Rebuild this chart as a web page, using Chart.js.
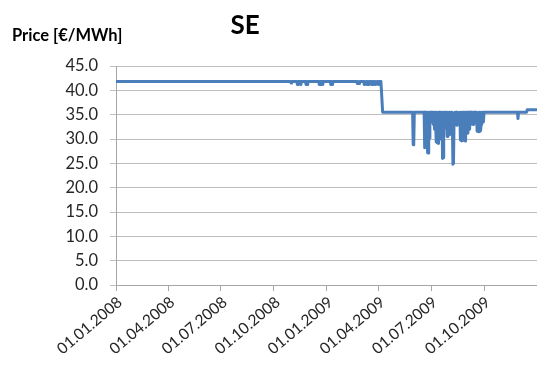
<!DOCTYPE html>
<html>
<head>
<meta charset="utf-8">
<script src="https://cdn.jsdelivr.net/npm/chart.js@4.4.1/dist/chart.umd.min.js"></script>
<style>
  html, body { margin: 0; padding: 0; background: #ffffff; }
  #c { display: block; }
</style>
</head>
<body>
<canvas id="c" width="537" height="374"></canvas>
<script>
// ---- Data ----
const chartTitle = "SE";
const yAxisTitle = "Price [€/MWh]";

// Sparse change points (daily series; flat stretches need only their ends)
const dates = [
  "2008-01-01",
  "2008-10-30", "2008-10-31", "2008-11-01",
  "2008-11-10", "2008-11-11", "2008-11-12", "2008-11-13", "2008-11-14", "2008-11-15", "2008-11-16", "2008-11-17", "2008-11-18",
  "2008-11-25", "2008-11-26", "2008-11-27", "2008-11-28", "2008-11-29",
  "2008-12-18", "2008-12-19", "2008-12-20", "2008-12-21", "2008-12-22", "2008-12-23", "2008-12-24", "2008-12-25", "2008-12-26",
  "2009-01-07", "2009-01-08", "2009-01-09", "2009-01-11", "2009-01-12",
  "2009-02-22", "2009-02-23", "2009-02-24", "2009-02-26", "2009-02-27",
  "2009-03-06", "2009-03-07", "2009-03-08", "2009-03-10", "2009-03-11", "2009-03-12", "2009-03-13", "2009-03-15", "2009-03-16",
  "2009-03-17", "2009-03-18", "2009-03-20", "2009-03-21", "2009-03-23", "2009-03-24", "2009-03-26", "2009-03-27", "2009-03-29", "2009-03-30",
  "2009-04-01", "2009-04-02", "2009-04-05", "2009-04-08",
  "2009-05-30", "2009-05-31", "2009-06-01", "2009-06-02",
  "2009-06-19", "2009-06-20", "2009-06-21",
  "2009-11-28", "2009-11-29", "2009-11-30",
  "2009-12-14", "2009-12-15", "2009-12-31"
];
const prices = [
  41.8,
  41.8, 41.5, 41.8,
  41.8, 41.2, 41.8, 41.2, 41.8, 41.3, 41.8, 41.2, 41.8,
  41.8, 41.2, 41.8, 41.2, 41.8,
  41.8, 41.2, 41.8, 41.3, 41.8, 41.2, 41.8, 41.2, 41.8,
  41.8, 41.2, 41.8, 41.2, 41.8,
  41.8, 41.4, 41.8, 41.4, 41.8,
  41.8, 41.2, 41.8, 41.3, 41.8, 41.2, 41.8, 41.2, 41.8,
  41.3, 41.8, 41.2, 41.8, 41.2, 41.8, 41.2, 41.8, 41.3, 41.8,
  41.2, 41.8, 41.8, 35.5,
  35.5, 28.8, 28.9, 35.5,
  35.5, 28.2, 35.5,
  35.5, 34.2, 35.5,
  35.5, 36.0, 36.0
];

// Consecutive daily prices for the volatile summer 2009 stretch
const dailyStart = "2009-06-24";
const dailyPrices = [
  35.5, 27.2, 27.1, 35.5, 30.2, 35.5, 34.0, 35.5, 33.5, 35.5,
  34.5, 33.0, 35.5, 32.0, 35.5, 33.0, 29.4, 35.5, 29.2, 34.0,
  29.1, 35.5, 33.5, 35.5, 30.0, 33.0, 35.5, 26.0, 26.2, 34.0,
  35.5, 32.3, 33.0, 35.5, 34.0, 30.5, 35.5, 30.8, 33.0, 35.5,
  31.0, 35.5, 33.5, 35.5, 34.0, 24.8, 25.0, 34.0, 35.5, 33.0,
  33.3, 35.5, 32.8, 35.5, 33.5, 34.5, 33.0, 35.5, 29.8, 35.5,
  29.6, 34.0, 29.7, 35.5, 30.0, 35.5, 29.6, 33.0, 35.5, 32.0,
  35.5, 31.2, 33.5, 35.5, 32.0, 35.5, 33.0, 35.5, 33.3, 35.5,
  33.0, 34.0, 35.5, 33.3, 35.5, 33.5, 35.5, 31.6, 34.0, 31.5,
  35.5, 31.6, 35.5, 31.7, 33.0, 35.5, 33.5, 35.5, 33.5, 35.5
];

// Axis ticks
const axisStart = "2008-01-01";
const axisEnd = "2010-01-01";
const xTickDates = ["2008-01-01", "2008-04-01", "2008-07-01", "2008-10-01",
                    "2009-01-01", "2009-04-01", "2009-07-01", "2009-10-01", "2010-01-01"];
const xTickLabels = ["01.01.2008", "01.04.2008", "01.07.2008", "01.10.2008",
                     "01.01.2009", "01.04.2009", "01.07.2009", "01.10.2009", ""];
const yMin = 0, yMax = 45, yStep = 5;

// ---- Build ----
const DAY = 86400000;
function dayIndex(s) {
  const p = s.split("-").map(Number);
  const b = axisStart.split("-").map(Number);
  return Math.round((Date.UTC(p[0], p[1] - 1, p[2]) - Date.UTC(b[0], b[1] - 1, b[2])) / DAY);
}
const pts = dates.map((d, i) => ({ x: dayIndex(d), y: prices[i] }));
const d0 = dayIndex(dailyStart);
dailyPrices.forEach((v, i) => pts.push({ x: d0 + i, y: v }));
pts.sort((a, b) => a.x - b.x);

const tickPos = xTickDates.map(dayIndex);
const labelAt = {};
tickPos.forEach((p, i) => { labelAt[p] = xTickLabels[i]; });

const FONT = "Lato, 'Open Sans', sans-serif";
const textColor = "#262626";

const titlePlugin = {
  id: "titles",
  afterDraw(chart) {
    const ctx = chart.ctx;
    ctx.save();
    ctx.fillStyle = "#000000";
    ctx.textBaseline = "alphabetic";
    ctx.font = "bold 26px " + FONT;
    ctx.textAlign = "center";
    ctx.fillText(chartTitle, 245, 34);
    ctx.font = "bold 16.5px " + FONT;
    ctx.textAlign = "left";
    ctx.fillText(yAxisTitle, 12, 41);
    ctx.restore();
  }
};

new Chart(document.getElementById("c"), {
  type: "line",
  data: {
    datasets: [{
      data: pts,
      borderColor: "#4a7ebb",
      borderWidth: 3,
      pointRadius: 0,
      pointHoverRadius: 0,
      tension: 0,
      fill: false,
      borderJoinStyle: "round",
      borderCapStyle: "round"
    }]
  },
  options: {
    responsive: false,
    animation: false,
    events: [],
    layout: { padding: { left: 0, right: 0, top: 66, bottom: 0 } },
    plugins: { legend: { display: false }, tooltip: { enabled: false }, title: { display: false } },
    scales: {
      x: {
        type: "linear",
        min: dayIndex(axisStart),
        max: dayIndex(axisEnd),
        afterBuildTicks(scale) { scale.ticks = tickPos.map(v => ({ value: v })); },
        afterFit(scale) { scale.height = 89; scale.paddingRight = 0; scale.paddingLeft = 0; },
        ticks: {
          autoSkip: false,
          minRotation: 40,
          maxRotation: 40,
          padding: 2,
          labelOffset: 4,
          color: textColor,
          font: { family: FONT, size: 15.5 },
          callback: (v) => (labelAt[v] !== undefined ? labelAt[v] : "")
        },
        grid: { display: true, drawOnChartArea: false, drawTicks: true, tickLength: 6, color: "#a6a6a6" },
        border: { display: true, color: "#a6a6a6", width: 1 }
      },
      y: {
        min: yMin,
        max: yMax,
        afterFit(scale) { scale.width = 116; },
        ticks: {
          stepSize: yStep,
          padding: 12,
          color: textColor,
          font: { family: FONT, size: 16.5 },
          callback: (v) => Number(v).toFixed(1)
        },
        grid: { color: "#bdbdbd", tickLength: 6, drawTicks: true },
        border: { display: true, color: "#a6a6a6", width: 1 }
      }
    }
  },
  plugins: [titlePlugin]
});
</script>
</body>
</html>
